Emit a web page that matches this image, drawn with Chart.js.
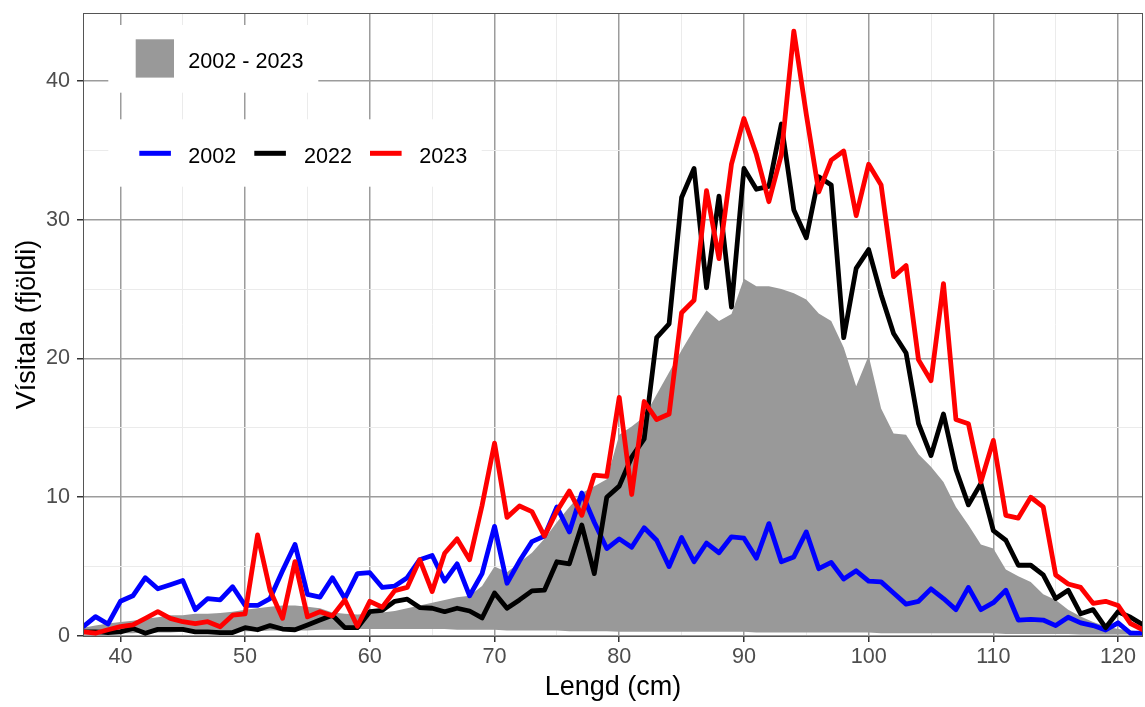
<!DOCTYPE html>
<html><head><meta charset="utf-8">
<script src="https://cdn.jsdelivr.net/npm/chart.js@4/dist/chart.umd.min.js"></script>
<style>html,body{margin:0;padding:0;background:#fff;}canvas{display:block;}</style>
</head><body>
<canvas id="c" width="1145" height="707"></canvas>
<script>
const lengths = [37,38,39,40,41,42,43,44,45,46,
  47,48,49,50,51,52,53,54,55,56,
  57,58,59,60,61,62,63,64,65,66,
  67,68,69,70,71,72,73,74,75,76,
  77,78,79,80,81,82,83,84,85,86,
  87,88,89,90,91,92,93,94,95,96,
  97,98,99,100,101,102,103,104,105,106,
  107,108,109,110,111,112,113,114,115,116,
  117,118,119,120,121,122];
const band2002_2023 = [0.6,0.75,0.9,1.0,1.1,1.25,1.35,1.5,1.5,1.6,
  1.6,1.65,1.75,1.9,2.0,2.1,2.2,2.2,2.1,2.0,
  1.7,1.6,1.55,1.6,1.7,1.8,2.0,2.2,2.4,2.6,
  2.8,2.9,3.6,5.0,4.6,5.3,6.0,7.0,8.2,9.3,
  10.3,10.8,11.3,14.5,15.1,15.8,17.4,19.0,20.6,22.1,
  23.45,22.7,23.2,25.75,25.2,25.2,25.0,24.7,24.25,23.25,
  22.7,20.8,18.0,20.2,16.4,14.6,14.5,13.1,12.2,11.1,
  9.3,8.0,6.6,6.3,4.8,4.3,3.9,3.0,2.6,1.9,
  1.4,1.0,0.7,0.5,0.4,0.3];
const band2002_2023Lower = [0.15,0.15,0.2,0.2,0.2,0.25,0.25,0.25,0.3,0.3,
  0.3,0.3,0.35,0.35,0.35,0.4,0.4,0.4,0.4,0.45,
  0.45,0.45,0.5,0.5,0.5,0.5,0.5,0.5,0.5,0.5,
  0.45,0.45,0.45,0.45,0.4,0.4,0.4,0.4,0.4,0.35,
  0.35,0.35,0.35,0.3,0.3,0.3,0.3,0.3,0.3,0.3,
  0.3,0.3,0.3,0.3,0.25,0.25,0.25,0.25,0.25,0.25,
  0.25,0.25,0.25,0.25,0.2,0.2,0.2,0.2,0.2,0.2,
  0.2,0.2,0.2,0.2,0.15,0.15,0.15,0.15,0.15,0.15,
  0.1,0.1,0.1,0.1,0.1,0.1];
const y2002 = [0.65,1.4,0.86,2.5,2.9,4.2,3.4,3.7,4.0,1.9,
  2.7,2.6,3.55,2.2,2.2,2.7,4.7,6.6,3.0,2.8,
  4.2,2.7,4.5,4.56,3.5,3.6,4.2,5.5,5.8,3.95,
  5.2,2.9,4.5,7.9,3.8,5.4,6.8,7.2,9.3,7.5,
  10.3,8.2,6.3,7.0,6.4,7.8,6.9,5.0,7.1,5.35,
  6.7,6.0,7.15,7.05,5.6,8.1,5.35,5.7,7.5,4.85,
  5.3,4.1,4.7,3.95,3.9,3.1,2.3,2.5,3.4,2.7,
  1.9,3.5,1.9,2.4,3.3,1.15,1.2,1.15,0.75,1.35,
  0.95,0.75,0.43,0.95,0.2,0.2];
const y2022 = [0.3,0.3,0.25,0.3,0.55,0.2,0.48,0.48,0.48,0.3,
  0.3,0.25,0.25,0.6,0.45,0.75,0.5,0.45,0.8,1.15,
  1.5,0.6,0.6,1.75,1.85,2.5,2.65,2.05,2.0,1.75,
  2.0,1.8,1.3,3.1,2.0,2.6,3.25,3.3,5.35,5.2,
  8.0,4.5,10.0,10.8,12.9,14.2,21.5,22.5,31.6,33.7,
  25.1,31.7,23.7,33.7,32.2,32.4,36.9,30.7,28.7,33.1,
  32.5,21.5,26.5,27.85,24.6,21.8,20.4,15.3,13.0,16.0,
  12.0,9.45,11.0,7.6,6.9,5.1,5.1,4.4,2.7,3.3,
  1.6,1.9,0.6,1.75,1.35,0.8];
const y2023 = [0.3,0.2,0.45,0.67,0.8,1.27,1.75,1.27,1.03,0.9,
  1.03,0.67,1.5,1.6,7.28,3.3,1.27,5.36,1.38,1.75,
  1.45,2.6,0.7,2.5,2.07,3.27,3.5,5.5,3.2,5.96,
  7.0,5.5,9.4,13.9,8.55,9.37,8.96,7.2,9.0,10.45,
  8.7,11.6,11.5,17.2,10.2,16.9,15.6,16.0,23.3,24.2,
  32.1,27.2,34.0,37.3,34.7,31.3,34.7,43.6,37.6,32.0,
  34.3,34.95,30.3,34.0,32.5,25.9,26.7,19.9,18.4,25.4,
  15.6,15.3,11.1,14.1,8.7,8.5,10.0,9.3,4.4,3.75,
  3.5,2.35,2.5,2.2,0.9,0.45];
const xMajorTicks = [40,50,60,70,80,90,100,110,120];
const xMinorTicks = [45,55,65,75,85,95,105,115];
const yMajorTicks = [0,10,20,30,40];
const yMinorTicks = [5,15,25,35];
const bandLabel = '2002 - 2023';
const lineLabels = ['2002','2022','2023'];
const xTitle = 'Lengd (cm)';
const yTitle = 'Vísitala (fjöldi)';

const FAM = '"Liberation Sans", Arial, sans-serif';
const lineColors = ['#0000ff','#000000','#ff0000'];
const pts = arr => lengths.map((L,i) => ({x: L, y: arr[i]}));

const panelAndLegend = {
  id: 'panelAndLegend',
  afterDraw(chart) {
    const ctx = chart.ctx, a = chart.chartArea;
    ctx.save();
    ctx.strokeStyle = '#555555'; ctx.lineWidth = 1;
    ctx.strokeRect(a.left + 0.5, a.top + 0.5, a.right - a.left - 1, a.bottom - a.top);
    ctx.fillStyle = '#ffffff';
    ctx.fillRect(108.3, 25, 210, 67.7);
    ctx.fillRect(108.3, 119.3, 373.4, 67.4);
    ctx.fillStyle = '#999999';
    ctx.fillRect(135.7, 39.3, 38.3, 38.3);
    ctx.fillStyle = '#000000';
    ctx.font = '21.6px ' + FAM;
    ctx.textBaseline = 'alphabetic'; ctx.textAlign = 'left';
    ctx.fillText(bandLabel, 188.3, 68.3);
    const keyX = [139.3, 254.3, 370];
    const txtX = [188.3, 304, 419.3];
    ctx.lineWidth = 5; ctx.lineCap = 'butt';
    lineLabels.forEach((lab, i) => {
      ctx.strokeStyle = lineColors[i];
      ctx.beginPath(); ctx.moveTo(keyX[i], 153.3); ctx.lineTo(keyX[i] + 31.6, 153.3); ctx.stroke();
      ctx.fillStyle = '#000000';
      ctx.fillText(lab, txtX[i], 162.7);
    });
    ctx.restore();
  }
};

const lineDs = (label, data, color, order) => ({
  label, data: pts(data), borderColor: color, backgroundColor: color,
  borderWidth: 4.8, pointRadius: 0, tension: 0, fill: false, order,
  borderJoinStyle: 'round', borderCapStyle: 'butt'
});

new Chart(document.getElementById('c'), {
  type: 'line',
  data: {
    datasets: [
      {label: 'lower', data: pts(band2002_2023Lower), borderWidth: 0, borderColor: 'rgba(0,0,0,0)', pointRadius: 0, fill: false, order: 10, tension: 0},
      {label: bandLabel, data: pts(band2002_2023), borderWidth: 0, borderColor: 'rgba(0,0,0,0)', backgroundColor: '#999999', pointRadius: 0, fill: '-1', order: 9, tension: 0},
      lineDs(lineLabels[0], y2002, lineColors[0], 3),
      lineDs(lineLabels[1], y2022, lineColors[1], 2),
      lineDs(lineLabels[2], y2023, lineColors[2], 1)
    ]
  },
  options: {
    responsive: false, animation: false, devicePixelRatio: 1,
    layout: {padding: {top: 13, right: 2, bottom: 0, left: 0}},
    plugins: {legend: {display: false}, tooltip: {enabled: false}},
    scales: {
      x: {
        type: 'linear', min: 37, max: 122,
        afterBuildTicks: s => { s.ticks = xMajorTicks.concat(xMinorTicks).sort((a,b)=>a-b).map(v => ({value: v})); },
        afterFit: s => { s.height = 71; s.paddingLeft = 0; s.paddingRight = 0; },
        ticks: {autoSkip: false, maxRotation: 0, padding: 2, color: '#4d4d4d', font: {size: 21.6, family: FAM},
          callback: v => xMajorTicks.includes(v) ? String(v) : ''},
        grid: {
          color: c => (c.tick && xMajorTicks.includes(c.tick.value)) ? '#9c9c9c' : '#ebebeb',
          lineWidth: c => (c.tick && xMajorTicks.includes(c.tick.value)) ? 1.5 : 1,
          tickColor: c => (c.tick && xMajorTicks.includes(c.tick.value)) ? '#333333' : 'rgba(0,0,0,0)',
          tickLength: 6, tickWidth: 1.5, drawTicks: true
        },
        border: {display: false},
        title: {display: true, text: xTitle, color: '#000000', font: {size: 27, family: FAM}, padding: {top: 0, bottom: 3}}
      },
      y: {
        type: 'linear', min: 0, max: 44.9,
        afterBuildTicks: s => { s.ticks = yMajorTicks.concat(yMinorTicks).sort((a,b)=>a-b).map(v => ({value: v})); },
        afterFit: s => { s.width = 83; s.paddingTop = 0; s.paddingBottom = 0; },
        ticks: {autoSkip: false, padding: 7, color: '#4d4d4d', font: {size: 21.6, family: FAM},
          callback: v => yMajorTicks.includes(v) ? String(v) : ''},
        grid: {
          color: c => (c.tick && yMajorTicks.includes(c.tick.value)) ? '#9c9c9c' : '#ebebeb',
          lineWidth: c => (c.tick && yMajorTicks.includes(c.tick.value)) ? 1.5 : 1,
          tickColor: c => (c.tick && yMajorTicks.includes(c.tick.value)) ? '#333333' : 'rgba(0,0,0,0)',
          tickLength: 6, tickWidth: 1.5, drawTicks: true
        },
        border: {display: false},
        title: {display: true, text: yTitle, color: '#000000', font: {size: 27, family: FAM}, padding: {top: 11, bottom: 0}}
      }
    }
  },
  plugins: [panelAndLegend]
});
</script>
</body></html>
